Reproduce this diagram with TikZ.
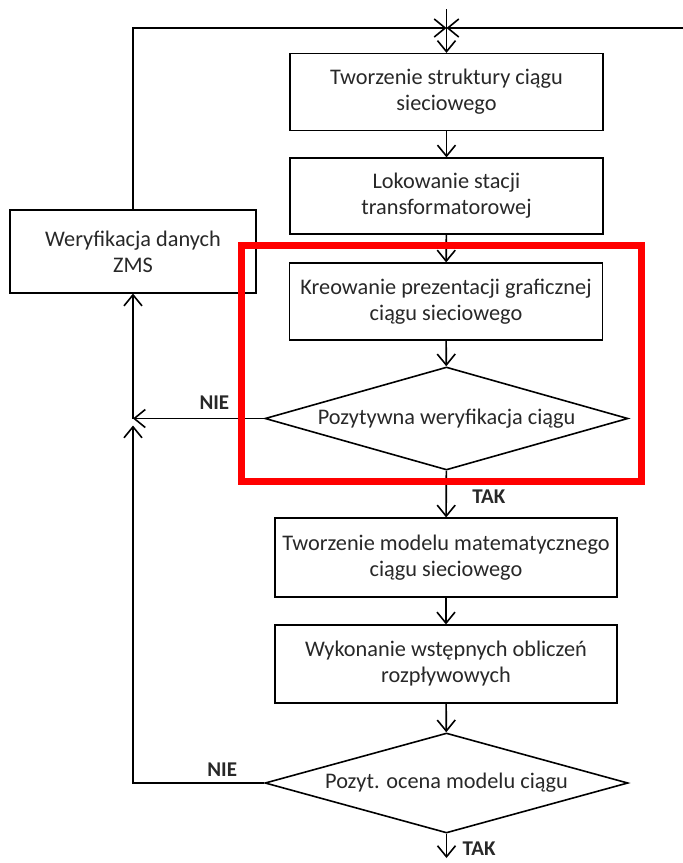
\documentclass[tikz,border=0pt]{standalone}
\usepackage{fontspec}
\setmainfont{Carlito}
\usetikzlibrary{arrows.meta,positioning,shapes.geometric}
\definecolor{ramka}{RGB}{255,0,0}
\definecolor{tekst}{RGB}{40,40,40}

\begin{document}
\begin{tikzpicture}[
  x=1pt,y=-1pt,
  >={Straight Barb[length=11pt,width=18pt]},
  krok/.style={draw,line width=1.2pt,fill=white,align=center,
    minimum width=313pt,minimum height=77pt,inner sep=2pt,
    font=\fontsize{22.3}{26}\selectfont,text=tekst},
  decyzja/.style={draw,diamond,line width=1.6pt,aspect=3.5,
    minimum width=363pt,minimum height=103pt,inner sep=0pt,
    font=\fontsize{22.3}{26}\selectfont,text=tekst},
  flow/.style={->,line width=1.6pt},
  etykieta/.style={font=\fontsize{21}{24}\selectfont\bfseries,text=tekst}
]
\useasboundingbox (0,0) rectangle (683,863);
\node[krok] (struktura) at (446.5,92) {Tworzenie struktury ciągu\\sieciowego};
\node[krok,minimum height=76pt] (stacja) at (446.5,196) {Lokowanie stacji\\transformatorowej};
\node[krok] (grafika) at (446,301.5) {Kreowanie prezentacji graficznej\\ciągu sieciowego};
\node[decyzja] (weryf) at (446.5,418.5) {Pozytywna weryfikacja ciągu};
\node[krok,minimum width=342pt,minimum height=79pt] (model) at (446,557.5) {Tworzenie modelu matematycznego\\ciągu sieciowego};
\node[krok,minimum width=342pt,minimum height=78pt] (obliczenia) at (446,664) {Wykonanie wstępnych obliczeń\\rozpływowych};
\node[decyzja,minimum height=100pt] (ocena) at (446.5,783) {Pozyt. ocena modelu ciągu};
\node[krok,minimum width=246pt,minimum height=83pt] (zms) at (133,251.5) {Weryfikacja danych\\ZMS};
\coordinate (start) at (446.5,9);
\coordinate (wezel) at (446.5,28);
\coordinate (prawy) at (683,28);
\coordinate (wezelL) at (133,418.5);
\coordinate (wyjscie) at (446.5,858);
% glowny przebieg
\draw[line width=1.6pt] (start) -- (wezel);
\draw[flow] (wezel) -- (struktura);
\draw[flow] (struktura) -- (stacja);
\draw[flow] (stacja) -- (grafika);
\draw[flow] (grafika) -- (weryf);
\draw[flow] (weryf) -- (model) node[etykieta,pos=0.55,right=22pt] {TAK};
\draw[flow] (model) -- (obliczenia);
\draw[flow] (obliczenia) -- (ocena);
\draw[flow] (ocena) -- (wyjscie) node[etykieta,pos=0.6,right=12pt] {TAK};
% petle powrotu
\draw[flow] (prawy) -- (wezel);
\draw[flow] (zms.north) |- (wezel);
\draw[flow] (weryf.west) -- (wezelL) node[etykieta,pos=0.38,above=5pt] {NIE};
\draw[flow] (wezelL) -- (zms.south);
\draw[flow,shorten >=7pt] (ocena.west) -| (wezelL) node[etykieta,pos=0.16,above=2pt] {NIE};
% zaznaczenie
\draw[ramka,line width=7pt] (241.5,245.5) rectangle (641.5,481.5);
\end{tikzpicture}
\end{document}
